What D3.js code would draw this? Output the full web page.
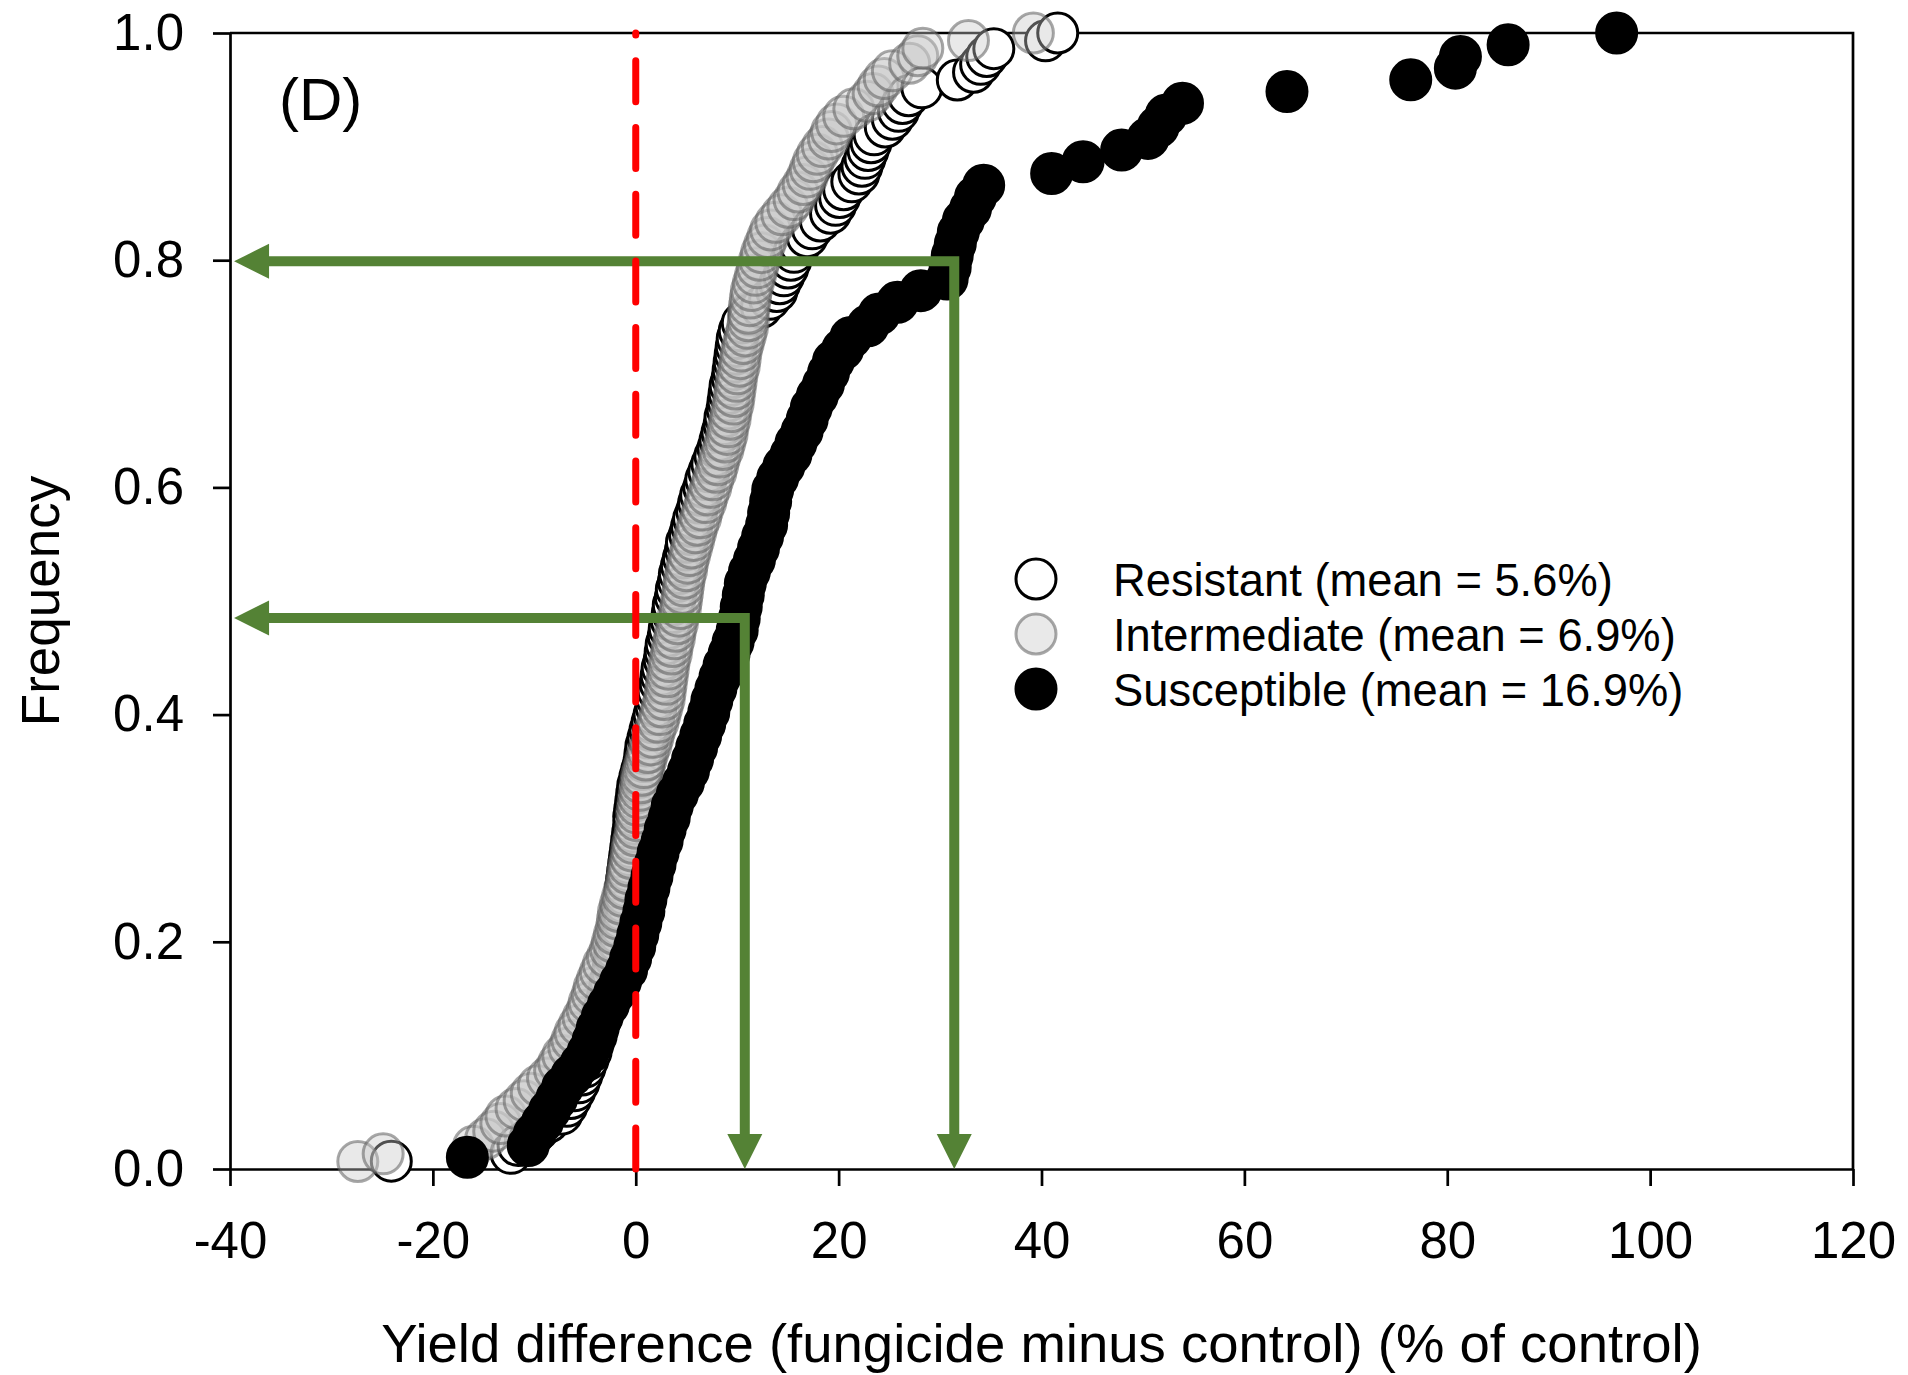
<!DOCTYPE html>
<html><head><meta charset="utf-8">
<script src="https://cdn.jsdelivr.net/npm/d3@7"></script>
<style>
body{margin:0;background:#fff;}
svg{display:block;}
text{font-family:"Liberation Sans", Arial, sans-serif;fill:#000;}
</style>
</head><body>
<svg id="chart" width="1908" height="1375"></svg>
<script>
// ---- data (yield difference, % of control), sorted; frequency = cumulative rank / n ----
const xTicks = [-40, -20, 0, 20, 40, 60, 80, 100, 120];
const yTicks = [0, 0.2, 0.4, 0.6, 0.8, 1.0];

const resistant = [-24.1,-12.3,-11.6,-10.4,-9.6,-8.6,-7.3,-6.8,-6.4,-6.0,
 -5.6,-5.3,-5.0,-4.7,-4.4,-4.2,-3.9,-3.7,-3.5,-3.3,
 -3.0,-2.8,-2.6,-2.5,-2.3,-2.2,-2.1,-2.0,-1.8,-1.7,
 -1.6,-1.5,-1.4,-1.2,-1.1,-1.0,-0.9,-0.8,-0.7,-0.6,
 -0.5,-0.4,-0.3,-0.2,-0.2,-0.1,0.0,0.1,0.2,0.4,
 0.6,0.8,0.9,1.0,1.2,1.4,1.6,1.8,2.0,2.1,
 2.2,2.4,2.5,2.6,2.8,2.9,3.0,3.2,3.3,3.5,
 3.6,3.7,3.9,4.0,4.2,4.3,4.5,4.7,4.9,5.0,
 5.3,5.5,5.7,6.0,6.2,6.4,6.7,6.9,7.2,7.5,
 7.8,8.1,8.3,8.5,8.7,8.8,9.0,9.1,9.2,9.3,
 9.5,9.6,9.7,9.8,9.9,10.0,10.2,10.5,11.2,12.4,
 13.2,13.9,14.2,14.6,15.0,15.3,15.6,16.2,16.9,17.4,
 18.2,19.2,19.7,20.1,20.5,21.3,22.0,22.3,22.6,22.9,
 23.2,23.5,24.6,25.3,25.9,26.3,26.9,28.2,31.7,33.3,
 34.0,34.6,35.3,40.4,41.6];

const intermediate = [-27.4,-24.9,-16.0,-14.8,-14.0,-13.3,-12.8,-11.8,-11.0,-10.3,
 -9.6,-8.7,-8.0,-7.6,-7.2,-6.6,-6.3,-6.0,-5.6,-5.2,
 -4.8,-4.6,-4.3,-4.1,-3.8,-3.5,-3.2,-2.8,-2.5,-2.3,
 -2.1,-1.9,-1.8,-1.7,-1.5,-1.3,-1.1,-0.9,-0.8,-0.7,
 -0.5,-0.4,-0.3,-0.1,0.0,0.1,0.1,0.2,0.3,0.4,
 0.5,0.6,0.8,1.0,1.2,1.5,1.7,1.9,2.2,2.4,
 2.6,2.8,2.9,3.0,3.1,3.2,3.3,3.5,3.6,3.8,
 3.9,4.1,4.2,4.4,4.5,4.6,4.7,4.8,5.0,5.1,
 5.3,5.5,5.7,5.9,6.1,6.4,6.6,6.9,7.1,7.4,
 7.6,7.9,8.1,8.3,8.6,8.8,9.0,9.1,9.3,9.4,
 9.6,9.7,9.8,9.9,10.0,10.2,10.3,10.4,10.6,10.8,
 11.0,11.1,11.1,11.2,11.3,11.4,11.6,11.8,12.0,12.2,
 12.4,12.7,13.0,13.3,13.8,14.4,15.0,15.6,16.0,16.5,
 16.9,17.2,17.5,17.9,18.4,19.0,19.3,19.8,20.5,21.5,
 22.8,23.4,23.9,24.5,25.3,27.0,27.8,28.3,32.8,39.2];

const susceptible = [-16.6,-10.6,-10.0,-9.2,-8.5,-7.8,-7.2,-6.3,-5.4,-4.7,
 -4.2,-3.8,-3.3,-2.7,-2.1,-1.5,-0.9,-0.5,-0.1,0.2,
 0.5,0.8,1.0,1.3,1.6,1.9,2.2,2.6,2.9,3.3,
 3.6,4.1,4.7,5.2,5.6,6.0,6.4,6.8,7.2,7.5,
 7.9,8.3,8.7,9.2,9.6,10.0,10.2,10.4,10.6,10.8,
 11.2,11.7,12.1,12.5,12.9,13.1,13.3,13.5,14.0,14.6,
 15.3,15.8,16.4,16.9,17.3,17.9,18.5,19.0,19.5,20.4,
 21.2,22.9,24.0,25.8,28.1,30.7,31.0,31.2,31.5,31.8,
 32.3,33.0,33.5,34.3,41.0,44.1,47.9,50.5,51.5,52.3,
 53.9,64.2,76.4,80.8,81.3,86.0,96.7];

const seriesNames = ["Resistant (mean = 5.6%)", "Intermediate (mean = 6.9%)", "Susceptible (mean = 16.9%)"];
// annotation arrows: corner point (x, frequency); lines run left to the y axis and down to the x axis
const arrowCornersX = [31.4, 10.75];
const arrowCornersY = [0.799, 0.485];
const panelLabel = "(D)";
const xTitle = "Yield difference (fungicide minus control) (% of control)";
const yTitle = "Frequency";

// ---- drawing ----
const svg = d3.select("#chart");
const L = 230, R = 1853, T = 33, B = 1169;
const x = d3.scaleLinear().domain([-40, 120]).range([L, R]);
const y = d3.scaleLinear().domain([0, 1]).range([B, T]);

const styles = [
  {fill: "#ffffff", stroke: "#000000", sw: 3},
  {fill: "rgba(200,200,200,0.4)", stroke: "rgba(95,95,95,0.55)", sw: 3},
  {fill: "#000000", stroke: "#000000", sw: 3}
];
const series = [resistant, intermediate, susceptible];
const rad = 20;

// axes
const gx = svg.append("g").attr("transform", `translate(0,${B})`)
  .call(d3.axisBottom(x).tickValues(xTicks).tickSize(17).tickPadding(36).tickSizeOuter(0).tickFormat(d => String(d)));
const gy = svg.append("g").attr("transform", `translate(${L},0)`)
  .call(d3.axisLeft(y).tickValues(yTicks).tickSize(17).tickPadding(29).tickSizeOuter(0).tickFormat(d3.format(".1f")));
[gx, gy].forEach(g => {
  g.select(".domain").attr("stroke", "#000").attr("stroke-width", 2.7);
  g.selectAll(".tick line").attr("stroke", "#000").attr("stroke-width", 2.7);
  g.selectAll(".tick text").attr("font-size", 51).attr("font-family", '"Liberation Sans", Arial, sans-serif').attr("fill", "#000");
});
// frame top/right
svg.append("path").attr("d", `M${L},${T}H${R}V${B}`).attr("fill", "none").attr("stroke", "#000").attr("stroke-width", 2.7);

// points
series.forEach((arr, si) => {
  const n = arr.length;
  svg.append("g").selectAll("circle").data(arr).join("circle")
    .attr("cx", d => x(d))
    .attr("cy", (d, i) => y((i + 1) / n))
    .attr("r", rad)
    .attr("fill", styles[si].fill)
    .attr("stroke", styles[si].stroke)
    .attr("stroke-width", styles[si].sw);
});

// green arrows
const green = "#548235";
const headL = 35, headW = 17.5;
arrowCornersX.forEach((cx0, k) => {
  const cx = x(cx0), cy = y(arrowCornersY[k]);
  const tipX = x(-39.6), tipY = y(0);
  svg.append("path")
    .attr("d", `M${tipX + headL - 2},${cy}L${cx},${cy}L${cx},${tipY - headL + 2}`)
    .attr("fill", "none").attr("stroke", green).attr("stroke-width", 10)
    .attr("stroke-linejoin", "miter").attr("stroke-linecap", "butt");
  svg.append("path")
    .attr("d", `M${tipX},${cy}L${tipX + headL},${cy - headW}L${tipX + headL},${cy + headW}Z`)
    .attr("fill", green);
  svg.append("path")
    .attr("d", `M${cx},${tipY}L${cx - headW},${tipY - headL}L${cx + headW},${tipY - headL}Z`)
    .attr("fill", green);
});

// red dashed zero line
svg.append("path")
  .attr("d", `M${x(0)},${y(0)}L${x(0)},${y(1)}`)
  .attr("stroke", "#ff0000").attr("stroke-width", 7)
  .attr("stroke-dasharray", "41 25.7").attr("stroke-linecap", "round").attr("fill", "none");

// panel label
svg.append("text").attr("x", 279).attr("y", 120).attr("font-size", 60).text(panelLabel);

// legend
const legY = [579, 634, 689];
seriesNames.forEach((name, i) => {
  svg.append("circle").attr("cx", 1036).attr("cy", legY[i]).attr("r", rad)
    .attr("fill", styles[i].fill).attr("stroke", styles[i].stroke).attr("stroke-width", styles[i].sw);
  svg.append("text").attr("x", 1113).attr("y", legY[i] + 17).attr("font-size", 45.3).text(name);
});

// axis titles
svg.append("text").attr("x", (L + R) / 2).attr("y", 1362).attr("text-anchor", "middle")
  .attr("font-size", 54.5).text(xTitle);
svg.append("text").attr("transform", `translate(59,${(T + B) / 2}) rotate(-90)`)
  .attr("text-anchor", "middle").attr("font-size", 53).text(yTitle);
</script>
</body></html>
